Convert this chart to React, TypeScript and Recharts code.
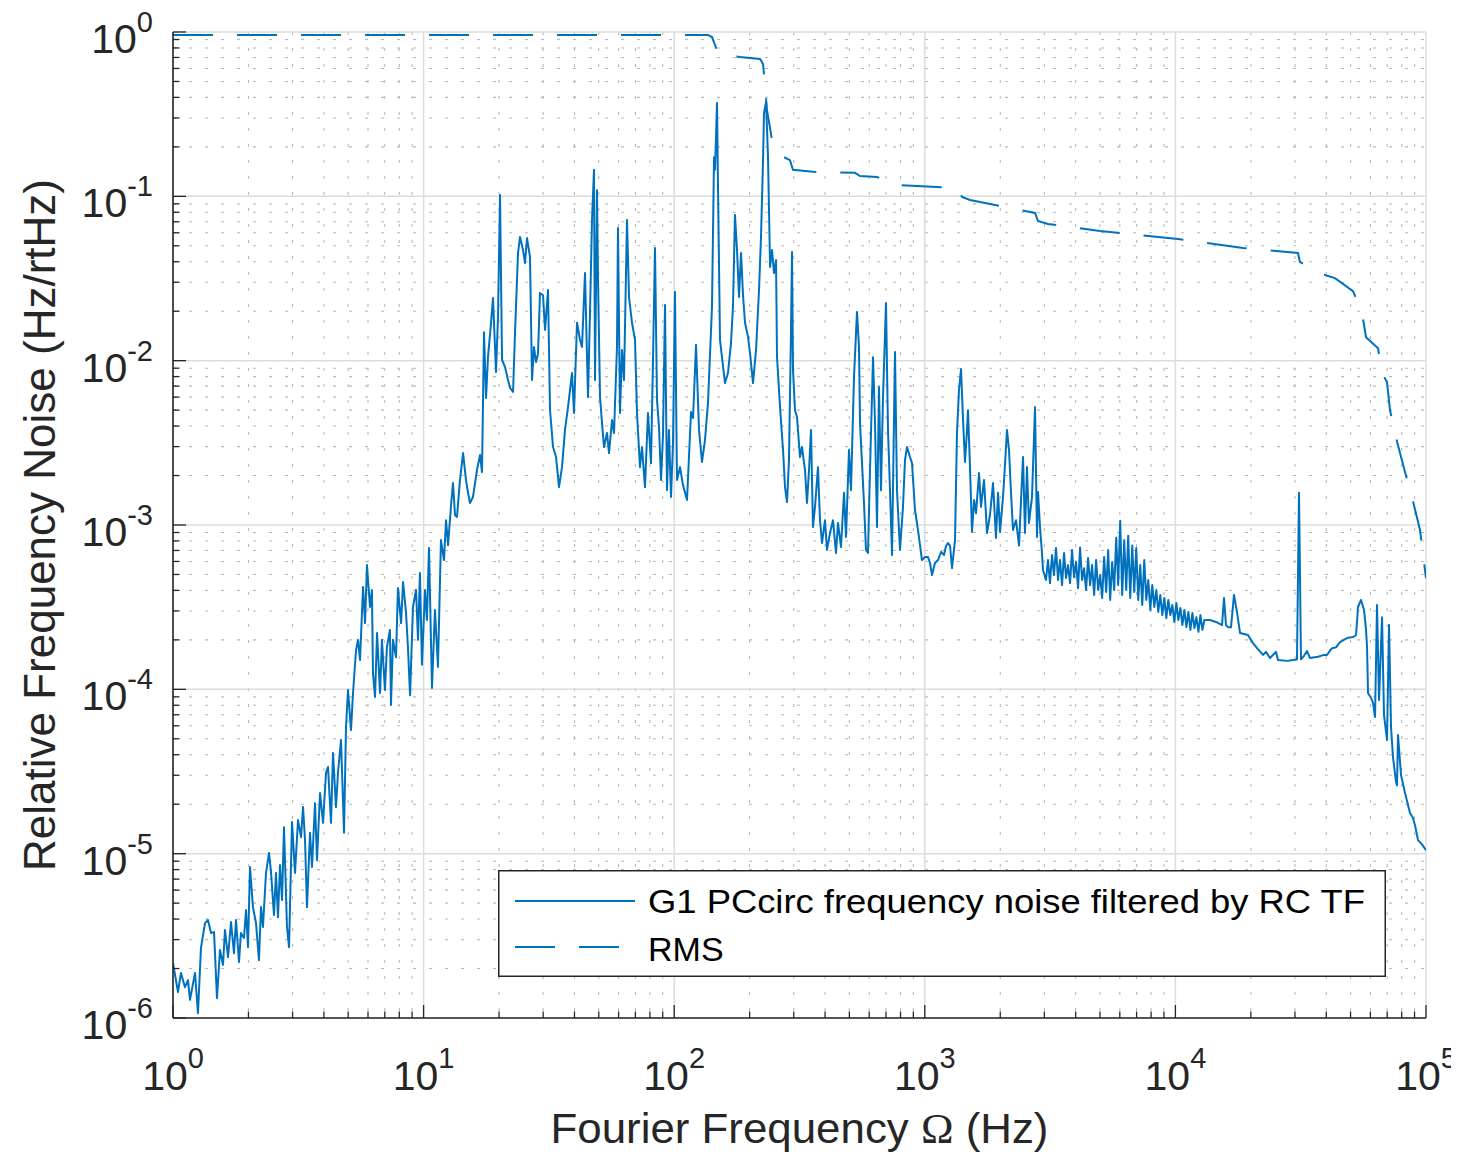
import React from 'react';
import { LineChart, Line, XAxis, YAxis, CartesianGrid, Legend } from 'recharts';

const FONT = '"Liberation Sans", Arial, Helvetica, sans-serif';
const TEXT = '#262626';
const BLUE = '#0072BD';

// ---------- axis ticks ----------
const xMajorTicks = [1, 10, 100, 1000, 10000, 100000];
const xExpLabels = ['0', '1', '2', '3', '4', '5'];
const yMajorTicks = [1e-6, 1e-5, 1e-4, 1e-3, 1e-2, 1e-1, 1];
const yExpLabels = ['-6', '-5', '-4', '-3', '-2', '-1', '0'];
const minorMultipliers = [2, 3, 4, 5, 6, 7, 8, 9];

const xMinorTicks = xMajorTicks.slice(0, -1).flatMap((d) => minorMultipliers.map((m) => +(d * m).toPrecision(6)));
const yMinorTicks = yMajorTicks.slice(0, -1).flatMap((d) => minorMultipliers.map((m) => +(d * m).toPrecision(6)));
const xAllTicks = [...xMajorTicks, ...xMinorTicks].sort((a, b) => a - b);
const yAllTicks = [...yMajorTicks, ...yMinorTicks].sort((a, b) => a - b);

// ---------- series: [frequency Hz, relative frequency noise Hz/rtHz] ----------
const noiseSpectrum: [number, number][] = [
  [1.0, 2.16e-6], [1.047, 1.44e-6], [1.076, 1.88e-6], [1.116, 1.54e-6], [1.148, 1.7e-6], [1.169, 1.29e-6],
  [1.224, 1.88e-6], [1.258, 1.07e-6], [1.293, 2.67e-6], [1.342, 3.78e-6], [1.379, 3.95e-6], [1.418, 3.29e-6],
  [1.458, 3.33e-6], [1.498, 1.32e-6], [1.54, 2.59e-6], [1.583, 2.1e-6], [1.612, 3.43e-6], [1.658, 2.35e-6],
  [1.704, 3.84e-6], [1.751, 2.48e-6], [1.784, 3.95e-6], [1.834, 2.19e-6], [1.867, 3.29e-6], [1.92, 3.07e-6],
  [1.956, 4.54e-6], [1.992, 2.7e-6], [2.029, 8.29e-6], [2.085, 4.73e-6], [2.144, 3.78e-6], [2.203, 2.25e-6],
  [2.245, 4.73e-6], [2.286, 3.58e-6], [2.35, 7.62e-6], [2.416, 1.01e-5], [2.461, 7.75e-6], [2.529, 4.23e-6],
  [2.576, 7.62e-6], [2.624, 4.11e-6], [2.673, 8.53e-6], [2.723, 5.22e-6], [2.773, 1.45e-5], [2.85, 3.58e-6],
  [2.904, 2.7e-6], [2.985, 1.56e-5], [3.068, 7.62e-6], [3.154, 1.6e-5], [3.243, 1.26e-5], [3.303, 1.92e-5],
  [3.363, 1.22e-5], [3.425, 4.73e-6], [3.521, 1.34e-5], [3.586, 8.29e-6], [3.687, 2.03e-5], [3.755, 9.15e-6],
  [3.861, 2.34e-5], [3.969, 1.54e-5], [4.079, 3.1e-5], [4.155, 3.37e-5], [4.271, 1.54e-5], [4.35, 4.1e-5],
  [4.471, 1.92e-5], [4.554, 3.1e-5], [4.682, 4.92e-5], [4.813, 1.34e-5], [4.902, 5.9e-5], [4.993, 9.9e-5],
  [5.132, 5.65e-5], [5.228, 9.5e-5], [5.374, 1.73e-4], [5.474, 2.0e-4], [5.576, 1.51e-4], [5.733, 4.2e-4],
  [5.839, 2.53e-4], [5.943, 5.71e-4], [6.11, 3.17e-4], [6.22, 4.02e-4], [6.28, 1.26e-4], [6.4, 8.98e-5],
  [6.52, 2.2e-4], [6.7, 9.5e-5], [6.82, 2.0e-4], [7.01, 9.9e-5], [7.14, 1.81e-4], [7.34, 2.3e-4],
  [7.41, 8.03e-5], [7.55, 2.0e-4], [7.76, 1.57e-4], [7.9, 4.14e-4], [8.13, 2.53e-4], [8.28, 4.5e-4],
  [8.51, 2.91e-4], [8.66, 1.81e-4], [8.83, 9.2e-5], [9.07, 3.17e-4], [9.33, 4.02e-4], [9.5, 2.0e-4],
  [9.67, 5.1e-4], [9.85, 1.41e-4], [10.13, 4.02e-4], [10.31, 2.64e-4], [10.51, 7.24e-4], [10.8, 1.02e-4],
  [11.1, 3.04e-4], [11.41, 1.37e-4], [11.73, 8.1e-4], [12.06, 6.12e-4], [12.29, 1.07e-3], [12.52, 7.55e-4],
  [12.87, 1.32e-3], [13.1, 1.8e-3], [13.35, 1.15e-3], [13.59, 1.12e-3], [13.97, 1.88e-3], [14.37, 2.74e-3],
  [14.76, 1.88e-3], [15.04, 1.57e-3], [15.32, 1.36e-3], [15.74, 1.48e-3], [16.33, 2.16e-3], [16.8, 2.67e-3],
  [17.1, 2.1e-3], [17.42, 0.0149], [17.75, 5.93e-3], [18.07, 0.0105], [18.58, 0.017], [18.92, 0.0241],
  [19.45, 8.53e-3], [19.81, 0.0184], [20.18, 0.102], [20.56, 0.0101], [21.13, 9.15e-3], [21.72, 7.62e-3],
  [22.13, 6.82e-3], [22.75, 6.45e-3], [23.16, 0.0147], [23.81, 0.0452], [24.25, 0.0566], [24.93, 0.0471],
  [25.39, 0.0393], [25.86, 0.0558], [26.58, 0.0428], [27.08, 7.62e-3], [27.57, 0.0121], [28.09, 9.82e-3],
  [28.61, 0.011], [29.14, 0.0258], [29.96, 0.025], [30.52, 0.0154], [31.37, 0.0269], [31.95, 5.01e-3],
  [32.85, 2.98e-3], [33.77, 2.59e-3], [34.7, 1.7e-3], [35.67, 2.25e-3], [36.66, 3.79e-3], [37.69, 5.22e-3],
  [39.1, 8.41e-3], [39.82, 4.8e-3], [40.94, 0.017], [42.09, 0.0134], [42.87, 0.0121], [44.06, 0.0341],
  [45.29, 6.01e-3], [46.13, 0.0195], [46.99, 0.0718], [47.86, 0.145], [48.31, 7.62e-3], [49.2, 0.109],
  [49.66, 0.031], [50.58, 6.01e-3], [51.52, 4.17e-3], [52.48, 2.98e-3], [53.94, 3.63e-3], [54.94, 2.74e-3],
  [56.47, 4.35e-3], [57.52, 3.63e-3], [59.11, 0.0121], [59.66, 0.0641], [60.77, 4.8e-3], [61.9, 0.0116],
  [63.05, 7.62e-3], [64.81, 0.0718], [66.02, 0.0244], [67.86, 0.017], [69.76, 0.0134], [71.05, 4.8e-3],
  [73.02, 2.25e-3], [74.38, 2.98e-3], [76.46, 1.7e-3], [78.59, 4.8e-3], [80.8, 2.38e-3], [82.3, 0.0101],
  [83.83, 0.0485], [85.39, 5.76e-3], [86.97, 3.95e-3], [88.6, 1.88e-3], [90.23, 3.53e-3], [91.9, 0.0218],
  [93.6, 1.63e-3], [95.3, 3.79e-3], [97.1, 1.48e-3], [98.9, 3.15e-3], [100.7, 0.0262], [102.6, 1.88e-3],
  [105.5, 2.25e-3], [108.4, 1.75e-3], [112.5, 1.42e-3], [116.7, 4.87e-3], [118.9, 4.48e-3], [122.2, 0.0125],
  [125.6, 3.79e-3], [129.1, 2.42e-3], [132.7, 3.29e-3], [136.4, 5.52e-3], [141.5, 0.0212], [144.2, 0.173],
  [145.5, 0.145], [148.2, 0.37], [149.6, 0.109], [152.3, 0.0134], [155.1, 0.0105], [159.5, 7.31e-3],
  [163.9, 8.41e-3], [168.5, 0.0128], [171.6, 0.0212], [174.8, 0.077], [178.1, 0.0471], [181.4, 0.0244],
  [184.8, 0.0452], [188.2, 0.025], [191.7, 0.017], [197.1, 0.0139], [200.7, 0.0111], [206.3, 7.31e-3],
  [212.1, 0.0116], [218.0, 0.0269], [222.0, 0.0566], [226.2, 0.166], [228.2, 0.321], [232.5, 0.375],
  [236.8, 0.173], [241.3, 0.0372], [245.7, 0.0471], [250.2, 0.0341], [254.9, 0.041], [257.2, 0.0105],
  [264.4, 5.22e-3], [271.8, 2.86e-3], [276.8, 1.7e-3], [282.0, 1.38e-3], [287.1, 2.49e-3], [292.5, 0.0154],
  [295.2, 0.0459], [297.9, 8.77e-3], [303.4, 5.0e-3], [309.0, 4.54e-3], [317.7, 2.59e-3], [323.6, 2.98e-3],
  [332.6, 2.16e-3], [338.8, 1.36e-3], [345.1, 2.16e-3], [351.5, 3.79e-3], [357.9, 9.72e-4], [364.6, 1.29e-3],
  [374.8, 2.25e-3], [381.7, 1.07e-3], [388.8, 7.77e-4], [399.6, 1.07e-3], [407.1, 7.05e-4], [418.5, 8.93e-4],
  [430.2, 1.07e-3], [442.2, 6.76e-4], [450.4, 1.03e-3], [463.0, 7.35e-4], [476.0, 1.57e-3], [484.8, 8.45e-4],
  [498.3, 2.86e-3], [507.6, 1.63e-3], [521.8, 7.96e-3], [536.3, 0.0198], [546.3, 0.0121], [551.4, 4.17e-3],
  [561.6, 2.38e-3], [572.0, 1.36e-3], [582.6, 7.05e-4], [593.4, 6.76e-4], [604.4, 2.16e-3], [621.4, 0.0105],
  [632.9, 4.17e-3], [644.6, 9.72e-4], [656.5, 6.91e-3], [668.7, 1.63e-3], [681.1, 6.01e-3], [700.1, 0.0224],
  [713.1, 3.79e-3], [726.3, 1.63e-3], [739.8, 6.57e-4], [760.5, 0.0113], [774.5, 1.63e-3], [796.2, 7.05e-4],
  [818.5, 1.29e-3], [833.7, 2.49e-3], [849.2, 2.98e-3], [873.0, 2.59e-3], [889.1, 2.38e-3], [914.0, 1.23e-3],
  [939.6, 9.32e-4], [974.5, 6.12e-4], [1002, 6.38e-4], [1030, 6.38e-4], [1049, 5.87e-4], [1068, 4.96e-4],
  [1098, 5.87e-4], [1129, 6.12e-4], [1161, 6.85e-4], [1193, 6.57e-4], [1215, 7.45e-4], [1238, 7.77e-4],
  [1261, 7.5e-4], [1284, 5.47e-4], [1320, 8.1e-4], [1344, 3.63e-3], [1369, 6.63e-3], [1395, 8.9e-3],
  [1421, 4.35e-3], [1447, 2.42e-3], [1474, 3.79e-3], [1487, 5.0e-3], [1515, 2.25e-3], [1543, 9.06e-4],
  [1572, 1.42e-3], [1601, 1.18e-3], [1646, 2.07e-3], [1676, 1.29e-3], [1723, 1.88e-3], [1771, 8.93e-4],
  [1820, 1.15e-3], [1872, 1.8e-3], [1923, 8.33e-4], [1960, 1.57e-3], [1996, 9.06e-4], [2052, 1.48e-3],
  [2089, 2.32e-3], [2128, 3.79e-3], [2168, 2.86e-3], [2208, 1.57e-3], [2249, 9.32e-4], [2312, 1.07e-3],
  [2377, 7.5e-4], [2421, 1.42e-3], [2466, 2.59e-3], [2511, 8.93e-4], [2557, 2.25e-3], [2604, 1.03e-3],
  [2678, 1.48e-3], [2753, 5.22e-3], [2804, 8.45e-4], [2830, 1.59e-3], [2882, 9.72e-4], [2935, 6.76e-4],
  [2962, 5.32e-4], [3045, 4.63e-4], [3102, 6.12e-4], [3159, 4.43e-4], [3218, 6.57e-4], [3278, 4.96e-4],
  [3339, 7.25e-4], [3401, 4.63e-4], [3464, 6.12e-4], [3529, 4.31e-4], [3594, 6.76e-4], [3661, 4.76e-4],
  [3729, 5.7e-4], [3798, 4.43e-4], [3869, 7.05e-4], [3941, 4.82e-4], [4014, 5.95e-4], [4089, 4.13e-4],
  [4165, 7.29e-4], [4242, 4.63e-4], [4321, 5.45e-4], [4402, 4.02e-4], [4484, 6.29e-4], [4567, 4.31e-4],
  [4652, 5.7e-4], [4739, 3.75e-4], [4827, 6.12e-4], [4917, 4.02e-4], [5008, 4.96e-4], [5101, 3.6e-4],
  [5196, 6.39e-4], [5293, 3.91e-4], [5391, 7.05e-4], [5492, 3.5e-4], [5594, 5.95e-4], [5698, 4.02e-4],
  [5804, 8.36e-4], [5912, 4.31e-4], [6022, 1.06e-3], [6134, 3.75e-4], [6248, 8.1e-4], [6364, 4.02e-4],
  [6482, 8.6e-4], [6603, 3.6e-4], [6726, 7.5e-4], [6851, 3.91e-4], [6978, 7.25e-4], [7108, 3.5e-4],
  [7240, 5.7e-4], [7375, 3.26e-4], [7512, 6.12e-4], [7652, 3.5e-4], [7794, 4.63e-4], [7939, 3.04e-4],
  [8087, 4.31e-4], [8237, 3.17e-4], [8390, 4.02e-4], [8546, 2.96e-4], [8705, 3.75e-4], [8867, 2.83e-4],
  [9032, 3.6e-4], [9200, 2.71e-4], [9371, 3.5e-4], [9545, 2.83e-4], [9723, 3.26e-4], [9904, 2.57e-4],
  [10088, 3.35e-4], [10276, 2.64e-4], [10467, 3.13e-4], [10662, 2.46e-4], [10860, 3.04e-4], [11062, 2.39e-4],
  [11268, 2.96e-4], [11477, 2.3e-4], [11691, 2.91e-4], [11908, 2.36e-4], [12130, 2.75e-4], [12356, 2.24e-4],
  [12585, 2.83e-4], [12819, 2.3e-4], [13057, 2.64e-4], [13740, 2.64e-4], [14520, 2.57e-4], [15350, 2.46e-4],
  [15630, 3.6e-4], [15920, 2.46e-4], [16210, 2.39e-4], [16670, 2.39e-4], [17130, 3.75e-4], [17610, 2.96e-4],
  [18110, 2.2e-4], [19480, 2.14e-4], [20400, 1.91e-4], [21170, 1.78e-4], [22370, 1.62e-4], [22990, 1.69e-4],
  [23850, 1.55e-4], [25200, 1.69e-4], [25670, 1.51e-4], [27880, 1.49e-4], [30560, 1.52e-4], [31130, 1.57e-3],
  [31710, 1.52e-4], [32600, 1.6e-4], [33510, 1.71e-4], [34450, 1.55e-4], [37070, 1.58e-4], [39160, 1.62e-4],
  [40260, 1.62e-4], [42160, 1.78e-4], [43740, 1.8e-4], [45380, 1.94e-4], [48390, 2.05e-4], [51150, 2.08e-4],
  [52580, 2.14e-4], [53550, 3.17e-4], [55050, 3.5e-4], [56580, 3.04e-4], [57640, 2.3e-4], [58170, 1.81e-4],
  [58710, 9.5e-5], [60340, 8.86e-5], [61460, 8.26e-5], [62600, 6.79e-5], [63760, 3.26e-4], [64950, 8.6e-5],
  [66760, 2.75e-4], [67990, 7.0e-5], [69890, 4.92e-5], [71190, 2.46e-4], [72510, 5.9e-5], [73850, 3.87e-5],
  [75920, 2.73e-5], [76620, 2.6e-5], [77320, 5.27e-5], [79490, 3.01e-5], [82470, 2.34e-5], [86330, 1.77e-5],
  [88750, 1.65e-5], [90390, 1.49e-5], [92920, 1.21e-5], [96390, 1.14e-5], [100000, 1.05e-5],
];

// ---------- series: [frequency Hz, cumulative RMS] ----------
const rmsCurve: [number, number][] = [
  [1.0, 0.959], [117.8, 0.959], [136.4, 0.959], [141.5, 0.932], [145.5, 0.834], [149.6, 0.735],
  [183.1, 0.705], [220.0, 0.685], [226.2, 0.639], [230.3, 0.476], [234.6, 0.335], [245.7, 0.22],
  [264.4, 0.178], [289.8, 0.166], [297.9, 0.145], [357.9, 0.141], [526.6, 0.139], [551.4, 0.133],
  [644.6, 0.131], [774.5, 0.117], [1118, 0.114], [1357, 0.112], [1408, 0.099], [1515, 0.095],
  [1996, 0.0873], [2753, 0.0792], [2830, 0.0708], [3102, 0.0679], [5002, 0.0615], [10240, 0.055],
  [18610, 0.0485], [30840, 0.0452], [31410, 0.0399], [37070, 0.0342], [43340, 0.0318], [51150, 0.0265],
  [55540, 0.0195], [57640, 0.0139], [64350, 0.0119], [66760, 8.41e-3], [69890, 7.41e-3], [71840, 5.01e-3],
  [75210, 3.58e-3], [82470, 2.1e-3], [87930, 1.48e-3], [94640, 9.32e-4], [100000, 4.75e-4],
];

const seriesNames = ['G1 PCcirc frequency noise filtered by RC TF', 'RMS'];
const xAxisTitle = 'Fourier Frequency ';
const yAxisTitle = 'Relative Frequency Noise (Hz/rtHz)';

const noiseData = noiseSpectrum.map(([f, v]) => ({ f, v }));
const rmsData = rmsCurve.map(([f, v]) => ({ f, v }));

const majorIndex = (list: number[], v: number) => list.findIndex((t) => Math.abs(v / t - 1) < 1e-9);

const MAJOR_LEN = 13;
const MINOR_LEN = 6.5;
const TICK_W = 1.3;

const BottomTick = (props: any) => {
  const { x, y, payload } = props;
  const idx = majorIndex(xMajorTicks, payload.value);
  const len = idx >= 0 ? MAJOR_LEN : MINOR_LEN;
  return (
    <g>
      <line x1={x} y1={y} x2={x} y2={y - len} stroke={TEXT} strokeWidth={TICK_W} />
      {idx >= 0 && (
        <text x={x} y={y + 72} textAnchor="middle" fontFamily={FONT} fontSize={41} fill={TEXT}>
          10
          <tspan dy={-22} fontSize={29}>
            {xExpLabels[idx]}
          </tspan>
        </text>
      )}
    </g>
  );
};

const TopTick = (props: any) => {
  const { x, y, payload } = props;
  const idx = majorIndex(xMajorTicks, payload.value);
  const len = idx >= 0 ? MAJOR_LEN : MINOR_LEN;
  return <line x1={x} y1={y} x2={x} y2={y + len} stroke={TEXT} strokeWidth={TICK_W} />;
};

const LeftTick = (props: any) => {
  const { x, y, payload } = props;
  const idx = majorIndex(yMajorTicks, payload.value);
  const len = idx >= 0 ? MAJOR_LEN : MINOR_LEN;
  return (
    <g>
      <line x1={x} y1={y} x2={x + len} y2={y} stroke={TEXT} strokeWidth={TICK_W} />
      {idx >= 0 && (
        <text x={x - 20} y={y + 21} textAnchor="end" fontFamily={FONT} fontSize={41} fill={TEXT}>
          10
          <tspan dy={-21} fontSize={29}>
            {yExpLabels[idx]}
          </tspan>
        </text>
      )}
    </g>
  );
};

const RightTick = (props: any) => {
  const { x, y, payload } = props;
  const idx = majorIndex(yMajorTicks, payload.value);
  const len = idx >= 0 ? MAJOR_LEN : MINOR_LEN;
  return <line x1={x} y1={y} x2={x - len} y2={y} stroke={TEXT} strokeWidth={TICK_W} />;
};

const XTitle = (props: any) => {
  const vb = props.viewBox || {};
  const cx = vb.x + vb.width / 2;
  return (
    <text
      x={cx}
      y={vb.y + 125}
      textAnchor="middle"
      fontFamily={FONT}
      fontSize={42}
      fill={TEXT}
      textLength={498}
      lengthAdjust="spacingAndGlyphs"
    >
      {xAxisTitle}
      <tspan fontFamily='"Liberation Serif", "DejaVu Serif", serif'>Ω</tspan>
      {' (Hz)'}
    </text>
  );
};

const YTitle = (props: any) => {
  const vb = props.viewBox || {};
  const cx = vb.x + 47;
  const cy = vb.y + vb.height / 2;
  return (
    <text
      x={cx}
      y={cy}
      transform={`rotate(-90 ${cx} ${cy})`}
      textAnchor="middle"
      fontFamily={FONT}
      fontSize={44}
      fill={TEXT}
    >
      {yAxisTitle}
    </text>
  );
};

const LegendBox = () => (
  <svg width={888} height={107} style={{ display: 'block' }}>
    <rect x={0.75} y={0.75} width={886.5} height={105.5} fill="#ffffff" stroke={TEXT} strokeWidth={1.5} />
    <line x1={17} y1={31} x2={137} y2={31} stroke={BLUE} strokeWidth={2} />
    <text x={150} y={43} fontFamily={FONT} fontSize={34} fill="#000000" textLength={717} lengthAdjust="spacingAndGlyphs">
      {seriesNames[0]}
    </text>
    <line x1={17} y1={77} x2={137} y2={77} stroke={BLUE} strokeWidth={2} strokeDasharray="40 24" />
    <text x={150} y={91} fontFamily={FONT} fontSize={34} fill="#000000">
      {seriesNames[1]}
    </text>
  </svg>
);

const axisLineStyle = { stroke: TEXT, strokeWidth: 1.6 };

export default function App() {
  return (
    <div style={{ width: 1451, height: 1145, background: '#ffffff' }}>
      <style>{'html, body { overflow: hidden; }'}</style>
      <LineChart width={1451} height={1145} margin={{ top: 24, right: 33, bottom: 0, left: 0 }}>
        <CartesianGrid
          horizontalValues={yMinorTicks}
          verticalValues={xMinorTicks}
          stroke="#b8b8b8"
          strokeWidth={1.1}
          strokeDasharray="3 13"
        />
        <CartesianGrid horizontalValues={yMajorTicks} verticalValues={xMajorTicks} stroke="#dcdcdc" strokeWidth={1.5} />
        <XAxis
          dataKey="f"
          type="number"
          scale="log"
          domain={[1, 100000]}
          allowDataOverflow
          ticks={xAllTicks}
          interval={0}
          height={135}
          tickLine={false}
          tickSize={0}
          tickMargin={0}
          tick={BottomTick}
          axisLine={axisLineStyle}
          label={XTitle}
        />
        <XAxis
          xAxisId="top"
          orientation="top"
          dataKey="f"
          type="number"
          scale="log"
          domain={[1, 100000]}
          allowDataOverflow
          ticks={xAllTicks}
          interval={0}
          height={0}
          tickLine={false}
          tickSize={0}
          tickMargin={0}
          tick={TopTick}
          axisLine={axisLineStyle}
        />
        <YAxis
          type="number"
          scale="log"
          domain={[1e-6, 1]}
          allowDataOverflow
          ticks={yAllTicks}
          interval={0}
          width={165}
          tickLine={false}
          tickSize={0}
          tickMargin={0}
          tick={LeftTick}
          axisLine={axisLineStyle}
          label={YTitle}
        />
        <YAxis
          yAxisId="right"
          orientation="right"
          type="number"
          scale="log"
          domain={[1e-6, 1]}
          allowDataOverflow
          ticks={yAllTicks}
          interval={0}
          width={0}
          tickLine={false}
          tickSize={0}
          tickMargin={0}
          tick={RightTick}
          axisLine={axisLineStyle}
        />
        <Line
          data={noiseData}
          dataKey="v"
          type="linear"
          stroke={BLUE}
          strokeWidth={2}
          dot={false}
          activeDot={false}
          isAnimationActive={false}
          strokeLinejoin="round"
        />
        <Line
          data={rmsData}
          dataKey="v"
          type="linear"
          stroke={BLUE}
          strokeWidth={2}
          strokeDasharray="40 24"
          dot={false}
          activeDot={false}
          isAnimationActive={false}
        />
        <Legend
          verticalAlign="middle"
          align="center"
          layout="horizontal"
          wrapperStyle={{ left: 490, top: 862, width: 888, height: 107 }}
          content={() => <LegendBox />}
        />
      </LineChart>
    </div>
  );
}
